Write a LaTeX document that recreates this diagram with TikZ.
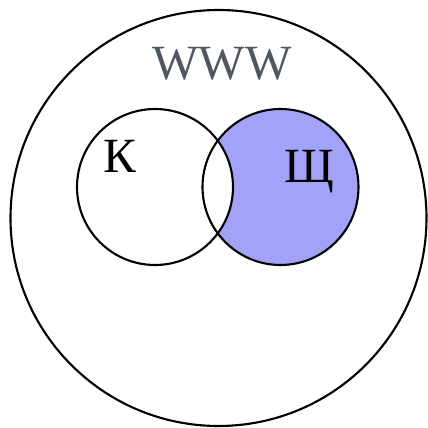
\documentclass[tikz,border=0pt]{standalone}
\usepackage{fontspec}
\setmainfont{Liberation Serif}
\usepackage{tikz}
\definecolor{lavender}{RGB}{162,162,248}
\definecolor{slategr}{RGB}{78,88,98}

\begin{document}
\begin{tikzpicture}[font=\fontsize{35}{40}\selectfont]
\useasboundingbox (0,0) rectangle (10.7,10.7);
\coordinate (U) at (5.4625,5.25);
\coordinate (Kc) at (3.875,6.025);
\coordinate (Sc) at (7.0125,6.025);
\fill[lavender] (Sc) circle (1.95);
\fill[white] (Kc) circle (1.95);
\draw[line width=1.5pt] (U) circle (5.2);
\draw[line width=1.5pt] (Kc) circle (1.95);
\draw[line width=1.5pt] (Sc) circle (1.95);
\node[anchor=base,slategr] (www) at (5.55,8.7) {WWW};
\node[anchor=base] (k) at (3.0,6.375) {К};
\node[anchor=base] (sch) at (7.725,6.125) {Щ};
\end{tikzpicture}
\end{document}
